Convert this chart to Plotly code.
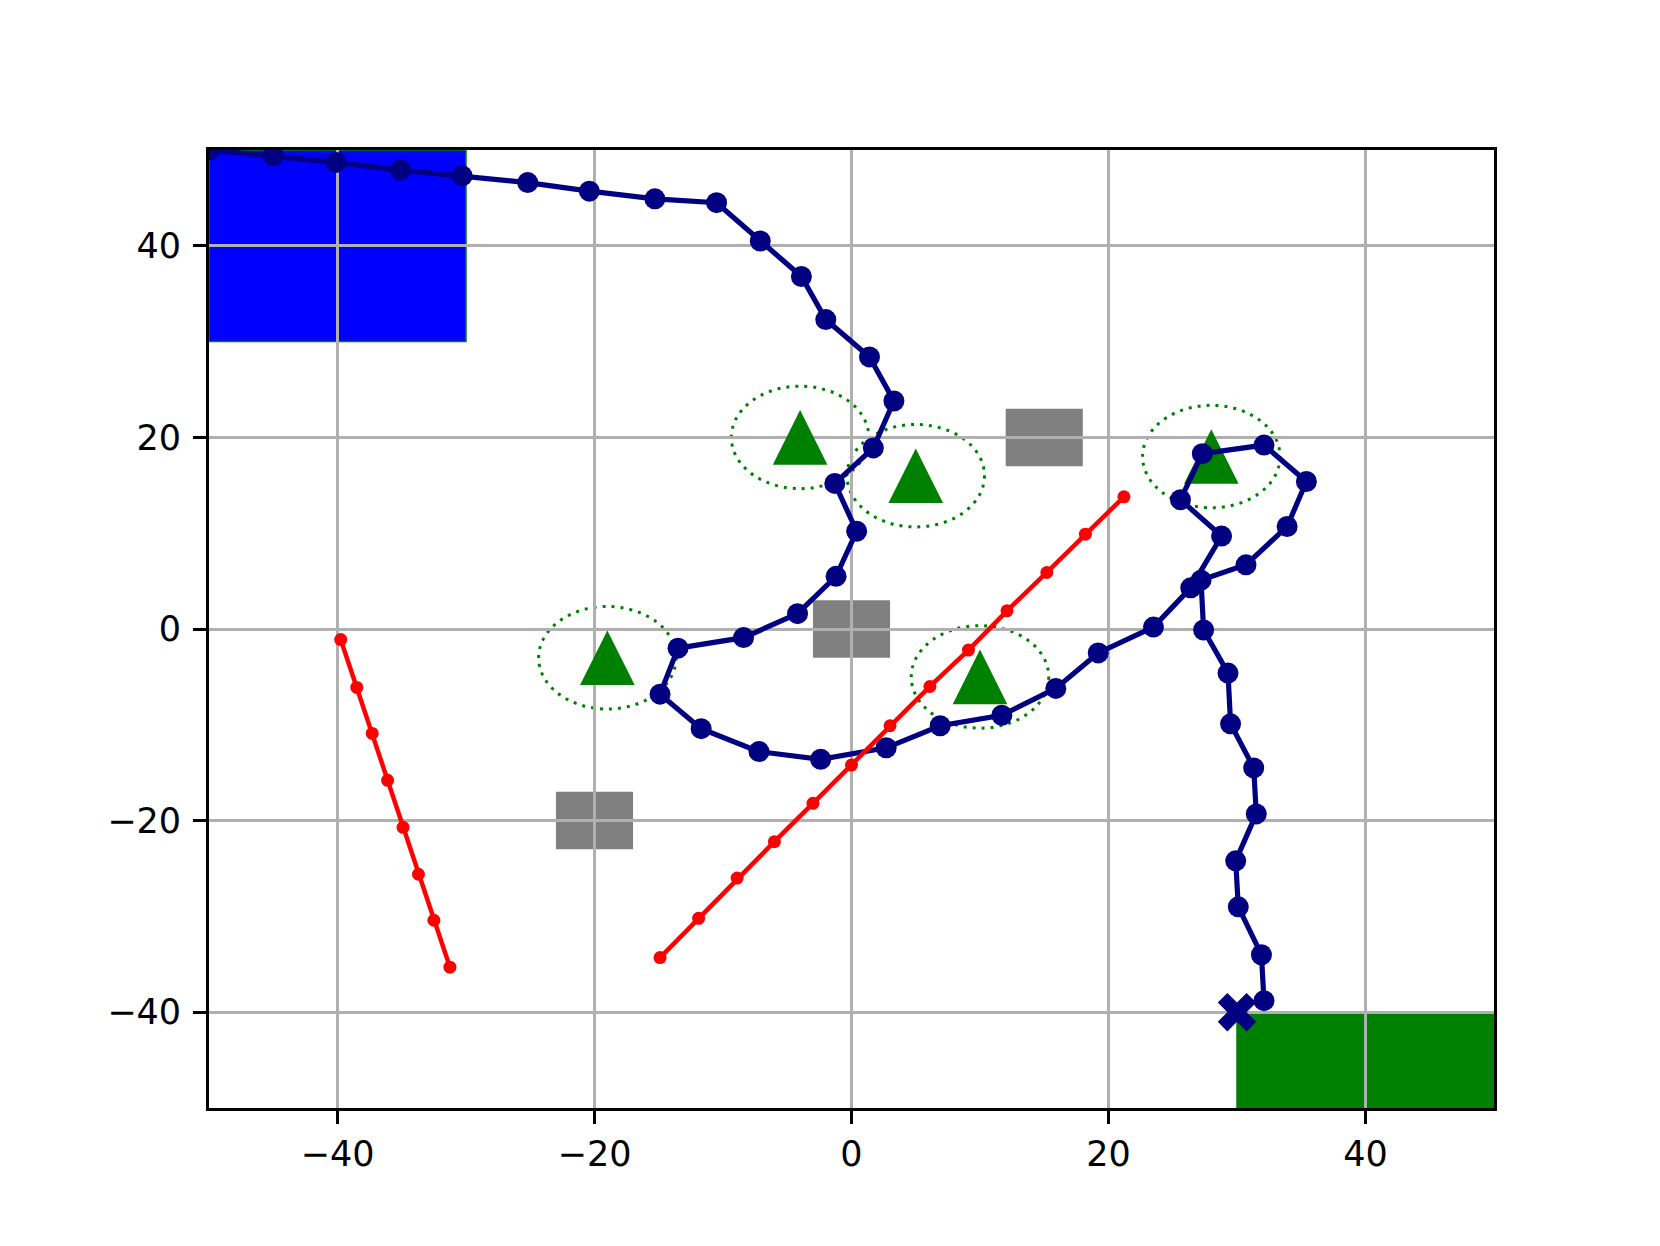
import plotly.graph_objects as go

# ---------------- data ----------------
# robot path (navy)
path_x = [-50, -45.0, -40.1, -35.1, -30.3, -25.2, -20.4, -15.3, -10.5, -7.1, -3.9, -2.0, 1.4, 3.3,
          1.7, -1.3, 0.4, -1.2, -4.2, -8.4, -13.5, -14.9, -11.7, -7.2, -2.4, 2.7, 6.9, 11.7, 15.9,
          19.2, 23.5, 26.4, 28.8, 25.6, 27.3, 32.1, 35.4, 33.9, 30.7, 27.2, 27.4, 29.3, 29.5, 31.3,
          31.5, 29.9, 30.1, 31.9, 32.1]
path_y = [50, 49.4, 48.7, 47.9, 47.3, 46.6, 45.7, 44.9, 44.5, 40.5, 36.8, 32.3, 28.4, 23.8,
          18.9, 15.2, 10.2, 5.5, 1.6, -0.9, -2.0, -6.8, -10.4, -12.8, -13.6, -12.4, -10.1, -9.0, -6.2,
          -2.5, 0.2, 4.3, 9.7, 13.5, 18.3, 19.2, 15.4, 10.7, 6.7, 5.1, -0.1, -4.6, -9.9, -14.5,
          -19.3, -24.2, -29.0, -34.0, -38.8]

# moving obstacles (red)
mov1_x = [-39.75, -38.5, -37.3, -36.1, -34.9, -33.7, -32.5, -31.25]
mov1_y = [-1.1, -6.1, -10.9, -15.8, -20.7, -25.6, -30.4, -35.3]
mov2_x = [-14.9, -11.9, -8.9, -6.0, -3.0, 0.0, 3.0, 6.1, 9.1, 12.1, 15.2, 18.2, 21.2]
mov2_y = [-34.3, -30.2, -26.0, -22.2, -18.2, -14.2, -10.1, -6.0, -2.2, 1.9, 5.9, 9.9, 13.8]

# static obstacles (green triangles with dotted safety circles)
obs_x = [-4, 5, -19, 10, 28]
obs_y = [20, 16, -3, -5, 18]
obs_r = [5.35, 5.35, 5.35, 5.35, 5.35]

# grey blocks (centres, side length)
block_x = [15, 0, -20]
block_y = [20, 0, -20]
block_side = [6, 6, 6]

# start / goal zones
zone_x0 = [-50, 30]
zone_x1 = [-30, 50]
zone_y0 = [30, -50]
zone_y1 = [50, -40]
zone_fill = ["#0000ff", "#008000"]

goal_x = [30]
goal_y = [-40]

tick_vals = [-40, -20, 0, 20, 40]
tick_text = ["\u221240", "\u221220", "0", "20", "40"]

# ---------------- layout geometry ----------------
# the page body adds an 8px offset, compensate in the margins
W, H = 1660, 1246
OFF = 8
ML, MR, MT, MB = 209 - OFF, 166 + OFF, 150 - OFF, 138 + OFF
plot_w = W - ML - MR
plot_h = H - MT - MB
px_x = plot_w / 100.0
px_y = plot_h / 100.0

fig = go.Figure()
shapes = []

for x0, x1, y0, y1, fc in zip(zone_x0, zone_x1, zone_y0, zone_y1, zone_fill):
    shapes.append(dict(type="rect", xref="x", yref="y", x0=x0, x1=x1, y0=y0, y1=y1,
                       fillcolor=fc, line=dict(color="#008000", width=1.5), layer="below"))

for cx, cy, s in zip(block_x, block_y, block_side):
    shapes.append(dict(type="rect", xref="x", yref="y", x0=cx - s / 2, x1=cx + s / 2,
                       y0=cy - s / 2, y1=cy + s / 2, fillcolor="#808080",
                       line=dict(width=0), layer="below"))

for cx, cy, r in zip(obs_x, obs_y, obs_r):
    shapes.append(dict(type="circle", xref="x", yref="y", x0=cx - r, x1=cx + r,
                       y0=cy - r, y1=cy + r, fillcolor="rgba(0,0,0,0)",
                       line=dict(color="#008000", width=3, dash="3px,6px"), layer="below"))

# triangles (matplotlib '^' style: equal width and height in pixels)
tri_half = 27.3
hw = tri_half / px_x
hh = tri_half / px_y
tx, ty = [], []
for cx, cy in zip(obs_x, obs_y):
    tx += [cx - hw, cx + hw, cx, cx - hw, None]
    ty += [cy - hh, cy - hh, cy + hh, cy - hh, None]
fig.add_trace(go.Scatter(x=tx, y=ty, mode="lines", fill="toself", fillcolor="#008000",
                         line=dict(color="#008000", width=0), hoverinfo="skip",
                         showlegend=False))

# robot path
fig.add_trace(go.Scatter(x=path_x, y=path_y, mode="lines+markers",
                         line=dict(color="#000080", width=5.2),
                         marker=dict(color="#000080", size=21), showlegend=False))

# goal marker
fig.add_trace(go.Scatter(x=goal_x, y=goal_y, mode="markers",
                         marker=dict(symbol="x", color="#000080", size=34, line=dict(width=0)),
                         showlegend=False))

# moving obstacles
for mx, my in [(mov1_x, mov1_y), (mov2_x, mov2_y)]:
    fig.add_trace(go.Scatter(x=mx, y=my, mode="lines+markers",
                             line=dict(color="#ff0000", width=4.5),
                             marker=dict(color="#ff0000", size=13), showlegend=False))

axis_common = dict(
    range=[-50, 50], tickmode="array", tickvals=tick_vals, ticktext=tick_text,
    showgrid=True, gridcolor="#b0b0b0", gridwidth=2.8, zeroline=False,
    showline=True, linecolor="black", linewidth=3, mirror=True,
    ticks="outside", ticklen=13, tickwidth=3, tickcolor="black",
    tickfont=dict(family="DejaVu Sans", size=35, color="black"),
)

fig.update_layout(
    width=W, height=H,
    margin=dict(l=ML, r=MR, t=MT, b=MB, pad=0),
    paper_bgcolor="white", plot_bgcolor="white",
    shapes=shapes,
    xaxis=dict(**axis_common, ticklabelstandoff=0),
    yaxis=dict(**axis_common, ticklabelstandoff=5),
    showlegend=False,
)

fig.write_html("out.html")
